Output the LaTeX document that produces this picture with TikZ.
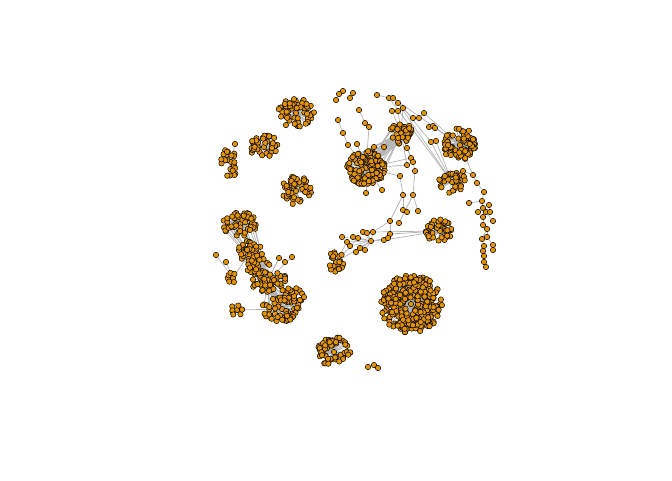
\documentclass[tikz,border=0pt]{standalone}
\usetikzlibrary{backgrounds}
\definecolor{vfill}{RGB}{228,148,0}
\definecolor{egray}{RGB}{178,178,178}
\tikzset{vtx/.style={circle,draw=black,fill=vfill,line width=0.5pt,inner sep=0pt,minimum size=5.4pt},
 edge/.style={draw=egray,line width=0.7pt}}
\newcommand\clusterblob[8]{%
 \pgfmathsetseed{#7}%
 \node[vtx] (#1-0) at (#2,#3) {};
 \foreach \i in {1,...,#6}{%
   \pgfmathsetmacro\cang{360*rnd}%
   \pgfmathsetmacro\crr{sqrt(#8+(1-#8)*rnd)}%
   \node[vtx] (#1-\i) at ({#2+#4*\crr*cos(\cang)},{#3+#5*\crr*sin(\cang)}) {};
 }}
\begin{document}
\begin{tikzpicture}[x=1pt,y=-1pt]
\useasboundingbox (0,0) rectangle (672,480);
% clusters
\clusterblob{big}{411}{304}{31}{29}{330}{11}{0.05}
\clusterblob{ca}{366}{168}{19}{17}{140}{12}{0.04}
\clusterblob{cb}{401}{133}{11}{11}{36}{13}{0.08}
\clusterblob{cc}{296}{113}{18}{15}{62}{14}{0.1}
\clusterblob{cd}{296}{191}{15}{15}{52}{15}{0.1}
\clusterblob{ce}{264}{147}{15}{13}{40}{16}{0.1}
\clusterblob{cf}{231}{162}{10}{15}{22}{17}{0.1}
\clusterblob{cg}{460}{145}{17}{17}{80}{18}{0.08}
\clusterblob{ch}{452}{182}{14}{11}{36}{19}{0.1}
\clusterblob{ci}{440}{231}{14}{12}{42}{20}{0.1}
\clusterblob{cj}{334}{352}{17}{15}{62}{21}{0.1}
\clusterblob{ck}{336}{262}{8}{11}{24}{22}{0.1}
\clusterblob{la}{240}{224}{17}{13}{55}{23}{0.05}
\clusterblob{lb}{250}{252}{13}{12}{36}{24}{0.05}
\clusterblob{lc}{268}{280}{18}{12}{48}{25}{0.05}
\clusterblob{ld}{282}{309}{20}{13}{55}{26}{0.05}
\clusterblob{lg}{258}{266}{12}{8}{24}{29}{0.05}
\clusterblob{lh}{291}{296}{12}{9}{24}{30}{0.05}
\clusterblob{le}{237}{310}{7}{7}{8}{27}{0.3}
\clusterblob{lf}{233}{278}{6}{6}{6}{28}{0.3}
% single nodes
\foreach \n/\x/\y in {t1/343/91, t2/339/94, t3/336/100, t4/353/93, t5/350/98, t6/377/95, t7/389/98, t8/393/98, t9/398/103, t10/403/108, t11/359/110, t12/365/123, t13/369/127, t14/338/120, t15/343/133, t16/348/145, t17/357/144, t18/392/111, t19/398/111, t20/413/118, t21/419/118, t22/424/113, t23/429/127, t24/433/126, t25/435/128, t26/431/142, t27/436/141, t28/407/148, t29/411/158, t30/413/162, t31/407/165, t32/415/171, t33/400/176, t34/403/195, t35/413/195, t36/382/190, t37/366/193, t38/374/147, t39/384/147,
 m1/342/237, m2/347/242, m3/353/237, m4/358/238, m5/363/232, m6/367/233, m7/371/241, m8/373/232, m9/360/248, m10/356/252, m11/365/250, m12/384/240, m13/390/234, m14/388/238, m15/350/246, m16/390/221, m17/399/223, m18/403/210, m19/407/212, m20/418/211,
 r1/463/171, r2/473/175, r3/477/183, r4/484/192, r5/482/201, r6/469/203, r7/478/212, r8/483/208, r9/486/212, r10/490/212, r11/489/205, r12/493/221, r13/483/217, r14/483/225, r15/487/229, r16/482/239, r17/487/237, r18/484/246, r19/493/245, r20/493/250, r21/483/251, r22/484/256, r23/484/262, r24/486/267,
 b1/368/367, b2/374/365, b3/378/368,
 l1/216/255, l2/226/262, l3/279/258, l4/285/262, l5/292/257, l6/300/300, l7/304/297, l8/235/144}
 {\node[vtx] (\n) at (\x,\y) {};}
\begin{pgfonlayer}{background}
\foreach \c/\n in {big/330, ca/140, cb/36, cc/62, cd/52, ce/40, cf/22, cg/80, ch/36, ci/42, cj/62, ck/24, la/55, lb/36, lc/48, ld/55, lg/24, lh/24, le/8, lf/6}
 {\foreach \i in {1,...,\n} {\draw[edge] (\c-0) -- (\c-\i);}}
\foreach \a/\b in {t1/t2, t2/t3, t4/t5, t6/t7, t8/t9, t9/t10, t10/cb-0, t9/t20, t7/ch-0, t8/cg-0, t20/t21, t21/t22, t23/t24, t24/cg-0, t25/cg-0, t26/ch-0, t27/ch-0, t9/ch-0, t10/t26, t22/cg-0,
 t11/t12, t12/t13, t13/ca-0, t14/t15, t15/t16, t16/ca-0, t17/ca-0, t18/cb-0, t19/cb-0, t38/ca-0, t39/cb-0, t38/cb-0, t28/cb-0, t29/t28, t30/cb-0, t31/ca-0, t32/t30, t33/ca-0, t34/t33, t35/t32, t36/ca-0, t37/ca-0, t31/cb-0, t29/ca-0,
 m16/t34, m17/t35, m18/t34, m19/m18, m20/t35, m16/m8, m13/m16, m12/ci-0, m13/ci-0, m8/ci-0,
 m1/m7, m2/m7, m3/m7, m4/m7, m5/m7, m6/m7, m8/m7, m9/m7, m10/m7, m11/m7, m12/m7, m14/m7, m15/m7, ck-0/m7, ck-0/m2, ck-0/m4,
 ch-0/r1, r1/r2, r2/r3, r3/r4, r4/r5, r5/r8, r8/r9, r9/r10, r10/r11, r6/r5, r7/r8, r12/r9, r13/r8, r14/r13, r15/r14, r16/r15, r17/r15, r18/r16, r19/r17, r20/r19, r21/r18, r22/r21, r23/r22, r24/r23, cg-0/r2,
 b1/b2, b2/b3,
 la-0/lb-0, lb-0/lc-0, lc-0/ld-0, le-0/ld-0, lf-0/lb-0, l1/lf-0, l2/lf-0, l3/lc-0, l4/l3, l5/lc-0, l6/ld-0, l7/l6, cf-0/l8, lg-0/lc-0, lh-0/ld-0, lh-0/lc-0}
 {\draw[edge] (\a) -- (\b);}
\foreach \i in {1,...,14} {\draw[edge] (ca-\i) -- (cb-0); \draw[edge] (cb-\i) -- (ca-0);}
\foreach \i in {1,...,15} {\draw[edge] (lc-0) -- (la-\i); \draw[edge] (lc-0) -- (ld-\i);}
\foreach \i in {1,...,12} {\draw[edge] (ld-0) -- (lb-\i); \draw[edge] (lc-0) -- (lg-\i);}
\end{pgfonlayer}
\end{tikzpicture}
\end{document}
